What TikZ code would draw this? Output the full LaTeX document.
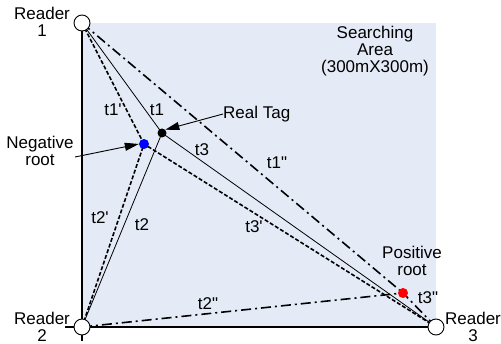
\documentclass[tikz,border=0pt]{standalone}
\usepackage{fontspec}
\setmainfont{Liberation Sans}[Ligatures=TeXOff]
\usetikzlibrary{arrows.meta}
\definecolor{areabg}{RGB}{228,234,246}
\definecolor{negblue}{RGB}{0,0,255}
\definecolor{posred}{RGB}{255,0,0}
\tikzset{
  lbl/.style={inner sep=0pt, align=center, font=\fontsize{17}{17}\selectfont},
  solidln/.style={line width=0.8pt},
  dashln/.style={line width=1.6pt, dash pattern=on 4pt off 2pt},
  dashdotln/.style={line width=1.6pt, dash pattern=on 10pt off 4pt on 2pt off 4pt},
  reader/.style={circle, draw, fill=white, line width=0.9pt, minimum size=16pt, inner sep=0pt},
  dot/.style={circle, fill=#1, inner sep=0pt, minimum size=9pt},
  pointer/.style={line width=0.9pt, -{Triangle[length=14pt,width=8pt]}}
}
\begin{document}
\begin{tikzpicture}[x=1pt,y=-1pt]
\useasboundingbox (0,0) rectangle (501,344);
\fill[areabg] (82,23) rectangle (436,327);
% axes
\coordinate (axtop) at (82,23);
\coordinate (axbot) at (82,341);
\coordinate (axleft) at (65,327);
\coordinate (axright) at (436,327);
\draw[line width=1.1pt] (axtop) -- (axbot);
\draw[line width=1.1pt] (axleft) -- (axright);
% key points
\coordinate (R1) at (82,23);
\coordinate (R2) at (82,327);
\coordinate (R3) at (436,327);
\coordinate (T) at (162,133);
\coordinate (N) at (144,144);
\coordinate (P) at (403,293);
% solid lines
\draw[solidln] (R1) -- (T);
\draw[solidln] (R2) -- (T);
\draw[solidln] (R3) -- (T);
% dashed lines
\draw[dashln] (R1) -- (N);
\draw[dashln] (R2) -- (N);
\draw[dashln] (R3) -- (N);
% dash-dot lines
\draw[dashdotln] (R1) -- (P);
\draw[dashdotln] (R2) -- (P);
\draw[dashdotln] (R3) -- (P);
% readers
\node[reader] (r1) at (R1) {};
\node[reader] (r2) at (R2) {};
\node[reader] (r3) at (R3) {};
% dots
\node[dot=black, minimum size=9pt] (tag) at (T) {};
\node[dot=negblue, minimum size=10pt] (neg) at (N) {};
\node[dot=posred, minimum size=10pt] (pos) at (P) {};
% reader labels
\node[lbl] (l1) at (42,22) {Reader\\1};
\node[lbl] (l2) at (42,327) {Reader\\2};
\node[lbl] (l3) at (473,327) {Reader\\3};
% area label
\node[lbl] (area) at (375,51) {Searching\\Area\\(300mX300m)};
% real tag
\node[lbl, anchor=west] (rt) at (223,114) {Real Tag};
\draw[pointer] (rt.west) -- (tag.north east);
% negative root
\node[lbl] (nr) at (40,151) {Negative\\root};
\coordinate (nrs) at (75,157);
\draw[pointer] (nrs) -- (neg.west);
% positive root
\node[lbl] (pr) at (412,261) {Positive\\root};
% line labels
\node[lbl] (a1) at (113,110) {t1'};
\node[lbl] (a2) at (157,110) {t1};
\node[lbl] (a3) at (202,150) {t3};
\node[lbl] (a4) at (277,163) {t1"};
\node[lbl] (a5) at (254,227) {t3'};
\node[lbl] (a6) at (100,218) {t2'};
\node[lbl] (a7) at (142,225) {t2};
\node[lbl] (a8) at (208,304) {t2"};
\node[lbl] (a9) at (428,298) {t3"};
\end{tikzpicture}
\end{document}
